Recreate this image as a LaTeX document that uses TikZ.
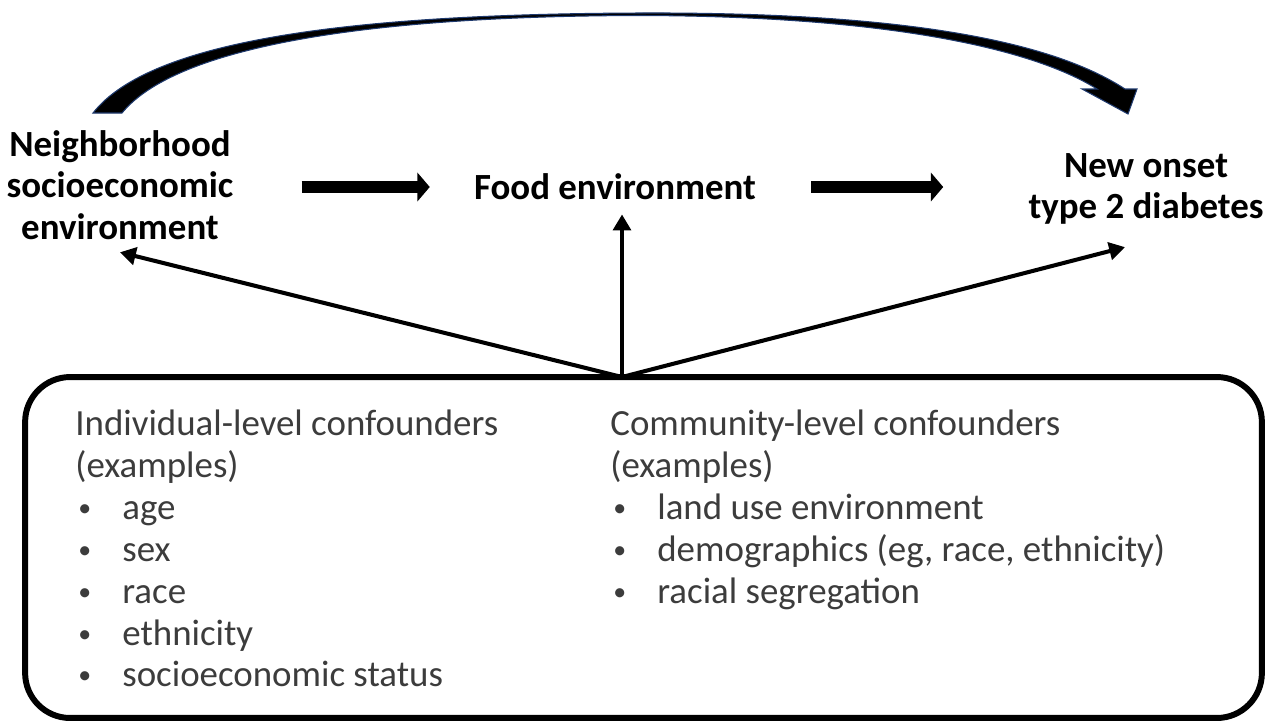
\documentclass[tikz,border=0pt]{standalone}
\usepackage{fontspec}
\setmainfont{Carlito}
\usetikzlibrary{arrows.meta,positioning,calc}
\definecolor{arcblue}{HTML}{1F3A6E}
\definecolor{boxtext}{HTML}{3C3C3C}
\newcommand{\itm}[1]{\makebox[0.94cm][l]{\hspace{0.06cm}\raisebox{0.08em}{\scalebox{0.7}{\textbullet}}}#1}

\begin{document}
\begin{tikzpicture}[
  x=0.02cm, y=-0.02cm,
  factor/.style={font=\fontsize{21}{23.8}\selectfont\bfseries,align=center,inner sep=0pt},
  list/.style={font=\fontsize{21}{23.8}\selectfont,align=left,anchor=north west,inner sep=0pt,text=boxtext},
  confbox/.style={draw,rounded corners=0.9cm,line width=3.4pt,minimum width=24.74cm,minimum height=6.82cm},
  confarrow/.style={-{Triangle[length=9pt,width=10pt]},line width=2.3pt},
  mainarrow/.style={-{Triangle[length=7pt,width=16pt]},line width=7pt}
]
\useasboundingbox (0,0) rectangle (1274,725);
% exposure, mediator, outcome
\node[factor] (nse) at (120,185) {Neighborhood\\socioeconomic\\environment};
\node[factor] (food) at (615,187) {Food environment};
\node[factor] (t2d) at (1146,189) {New onset\\type 2 diabetes};
% confounders
\node[confbox] (conf) at (643.5,547.5) {};
\node[list] (indiv) at (75,410) {Individual-level confounders\\(examples)\\\itm{age}\\\itm{sex}\\\itm{race}\\\itm{ethnicity}\\\itm{socioeconomic status}};
\node[list] (comm) at (610,410) {Community-level confounders\\(examples)\\\itm{land use environment}\\\itm{demographics (eg, race, ethnicity)}\\\itm{racial segregation}};
\coordinate (apex) at (622,377);
% direct path (curved arrow)
\filldraw[fill=black,draw=arcblue,line width=0.6pt]
  (93,113) .. controls (150,40) and (350,14) .. (640,13)
  .. controls (900,12) and (1050,40) .. (1125,89)
  -- (1137,89) -- (1128,114) -- (1082,89) -- (1097,89)
  .. controls (1030,47) and (880,16) .. (640,15.5)
  .. controls (360,16) and (175,48) .. (122,113) -- cycle;
\draw[mainarrow] ($(nse.east)+(68,2)$) -- ($(food.west)+(-44,0)$);
\draw[mainarrow] ($(food.east)+(55,0)$) -- ($(t2d.west)+(-85,-2)$);
\draw[confarrow] (apex) -- ($(nse.south)+(0,12)$);
\draw[confarrow] (apex) -- ($(food.south)+(7,14)$);
\draw[confarrow] (apex) -- ($(t2d.south)+(-21,22)$);
\end{tikzpicture}
\end{document}
